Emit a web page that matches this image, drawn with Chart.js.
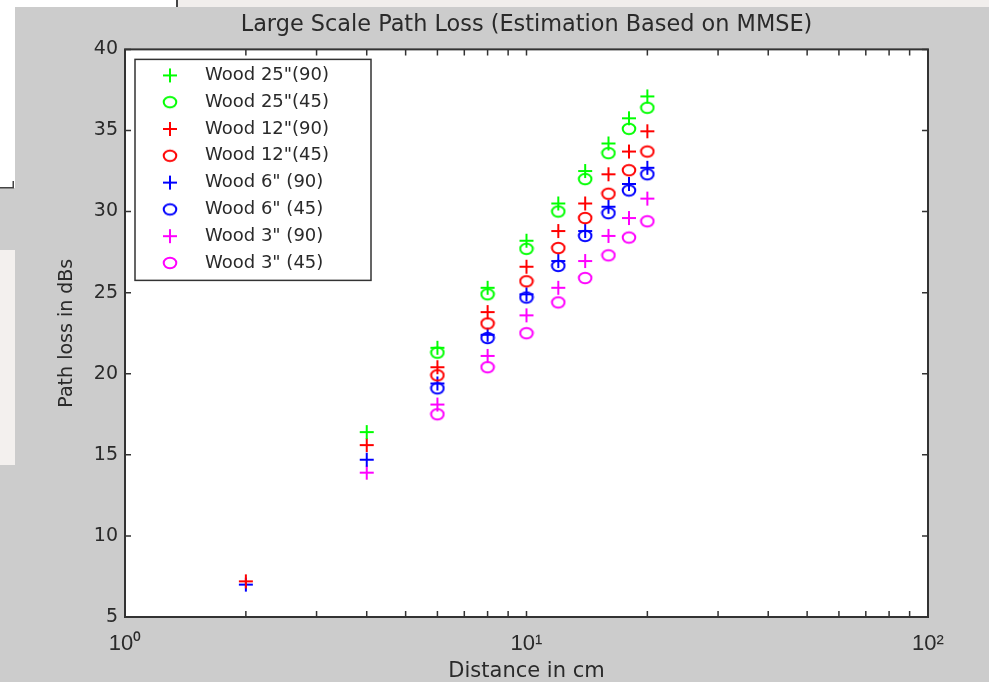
<!DOCTYPE html>
<html>
<head>
<meta charset="utf-8">
<title>Large Scale Path Loss</title>
<script src="https://cdn.jsdelivr.net/npm/chart.js@4.4.1/dist/chart.umd.min.js"></script>
<style>
  html, body { margin: 0; padding: 0; background: #fff; }
  #pathLossChart { display: block; }
</style>
</head>
<body>
<canvas id="pathLossChart" width="989" height="682"></canvas>
<script>
// Distance in cm where each estimate was taken
const distances = [2, 4, 6, 8, 10, 12, 14, 16, 18, 20];

// Path loss in dB (null = no marker at that distance)
const wood25_90 = [null, 16.4, 21.6, 25.3, 28.2, 30.5, 32.5, 34.2, 35.75, 37.1];
const wood25_45 = [null, null, 21.3, 24.9, 27.7, 30.0, 32.0, 33.6, 35.1, 36.4];
const wood12_90 = [7.2, 15.6, 20.4, 23.8, 26.6, 28.8, 30.5, 32.3, 33.7, 34.95];
const wood12_45 = [null, null, 19.9, 23.1, 25.7, 27.75, 29.6, 31.1, 32.55, 33.7];
const wood6_90 = [7.0, 14.7, 19.4, 22.4, 24.9, 26.95, 28.8, 30.3, 31.7, 32.7];
const wood6_45 = [null, null, 19.1, 22.2, 24.7, 26.65, 28.5, 29.9, 31.3, 32.3];
const wood3_90 = [null, 13.9, 18.1, 21.1, 23.6, 25.3, 26.95, 28.5, 29.6, 30.8];
const wood3_45 = [null, null, 17.5, 20.4, 22.5, 24.4, 25.9, 27.3, 28.4, 29.4];

const seriesValues = [wood25_90, wood25_45, wood12_90, wood12_45, wood6_90, wood6_45, wood3_90, wood3_45];
const seriesLabels = ['Wood 25"(90)', 'Wood 25"(45)', 'Wood 12"(90)', 'Wood 12"(45)',
                      'Wood 6" (90)', 'Wood 6" (45)', 'Wood 3" (90)', 'Wood 3" (45)'];
const seriesColors = ["#00ff00", "#00ff00", "#ff0000", "#ff0000", "#0000ff", "#0000ff", "#ff00ff", "#ff00ff"];
const seriesShapes = ["plus", "circle", "plus", "circle", "plus", "circle", "plus", "circle"];

// Axis ticks
const xTickValues = [1, 2, 3, 4, 5, 6, 7, 8, 9, 10, 20, 30, 40, 50, 60, 70, 80, 90, 100];
const xTickLabels = { 1: "10\u2070", 10: "10\u00b9", 100: "10\u00b2" };
const yTickValues = [5, 10, 15, 20, 25, 30, 35, 40];

const textColor = "#2a2a2a";
const fontFamily = "'DejaVu Sans', sans-serif";

// MATLAB-like markers: '+' and a slightly flattened 'o'
function makeMarker(shape, color) {
  const c = document.createElement("canvas");
  c.width = 16;
  c.height = 16;
  const g = c.getContext("2d");
  g.strokeStyle = color;
  g.lineWidth = 2;
  g.beginPath();
  if (shape === "plus") {
    g.moveTo(8, 1); g.lineTo(8, 15);
    g.moveTo(1, 8); g.lineTo(15, 8);
  } else {
    g.ellipse(8, 8, 6.3, 5.3, 0, 0, Math.PI * 2);
  }
  g.stroke();
  return c;
}

const datasets = seriesValues.map((vals, i) => ({
  label: seriesLabels[i],
  data: distances.map((d, j) => (vals[j] === null ? null : { x: d, y: vals[j] })).filter(p => p),
  pointStyle: makeMarker(seriesShapes[i], seriesColors[i]),
  borderColor: seriesColors[i],
  backgroundColor: "transparent",
  showLine: false
}));

// Gray figure window, white axes area and the desktop bits around it
const figureBackground = {
  id: "figureBackground",
  beforeDraw(chart) {
    const c = chart.ctx;
    const a = chart.chartArea;
    c.save();
    c.fillStyle = "#cccccc";
    c.fillRect(0, 0, chart.width, chart.height);
    c.fillStyle = "#f1eeec";
    c.fillRect(0, 0, chart.width, 7);
    c.fillStyle = "#ffffff";
    c.fillRect(0, 0, 176, 7);
    c.fillRect(0, 0, 15, 188);
    c.fillStyle = "#f3f0ee";
    c.fillRect(0, 250, 15, 215);
    c.fillStyle = "#444";
    c.fillRect(176, 0, 2, 7);
    c.fillRect(0, 187, 14, 1.5);
    c.fillRect(12.5, 181, 1.5, 7);
    c.fillStyle = "#ffffff";
    c.fillRect(a.left, a.top, a.right - a.left, a.bottom - a.top);
    c.restore();
  }
};

// Box around the axes with inward ticks on all four sides
const matlabAxes = {
  id: "matlabAxes",
  afterDatasetsDraw(chart) {
    const c = chart.ctx;
    const a = chart.chartArea;
    const xs = chart.scales.x;
    const ys = chart.scales.y;
    const len = 6;
    c.save();
    c.strokeStyle = "#333";
    c.lineWidth = 1.5;
    c.beginPath();
    xs.ticks.forEach(t => {
      const px = xs.getPixelForValue(t.value);
      c.moveTo(px, a.bottom); c.lineTo(px, a.bottom - len);
      c.moveTo(px, a.top); c.lineTo(px, a.top + len);
    });
    ys.ticks.forEach(t => {
      const py = ys.getPixelForValue(t.value);
      c.moveTo(a.left, py); c.lineTo(a.left + len, py);
      c.moveTo(a.right, py); c.lineTo(a.right - len, py);
    });
    c.stroke();
    c.lineWidth = 2;
    c.strokeRect(a.left, a.top, a.right - a.left, a.bottom - a.top);
    c.restore();
  }
};

// Legend box in the upper left corner of the axes
const boxedLegend = {
  id: "boxedLegend",
  afterDraw(chart) {
    const c = chart.ctx;
    const a = chart.chartArea;
    const left = a.left + 10, top = a.top + 10, w = 236, h = 221;
    c.save();
    c.fillStyle = "#fff";
    c.fillRect(left, top, w, h);
    c.strokeStyle = "#333";
    c.lineWidth = 1.5;
    c.strokeRect(left, top, w, h);
    c.font = "18px " + fontFamily;
    c.fillStyle = textColor;
    c.textBaseline = "middle";
    chart.data.datasets.forEach((ds, i) => {
      const y = top + 16 + i * 26.8;
      c.drawImage(ds.pointStyle, left + 35 - 8, y - 8);
      c.fillText(ds.label, left + 70, y);
    });
    c.restore();
  }
};

const ctx = document.getElementById("pathLossChart").getContext("2d");
new Chart(ctx, {
  type: "scatter",
  data: { datasets: datasets },
  plugins: [figureBackground, matlabAxes, boxedLegend],
  options: {
    responsive: false,
    animation: false,
    layout: { padding: { left: 0, right: 61, top: 0, bottom: 0 } },
    elements: { point: { radius: 7, hoverRadius: 7, borderWidth: 0 } },
    plugins: {
      legend: { display: false },
      tooltip: { enabled: false },
      title: {
        display: true,
        fullSize: false,
        text: "Large Scale Path Loss (Estimation Based on MMSE)",
        color: textColor,
        font: { family: fontFamily, size: 22.4, weight: "normal", lineHeight: 1.2 },
        padding: { top: 12, bottom: 10.5 }
      }
    },
    scales: {
      x: {
        type: "logarithmic",
        min: 1,
        max: 100,
        afterBuildTicks: s => { s.ticks = xTickValues.map(v => ({ value: v })); },
        afterFit: s => { s.height = 65; },
        grid: { display: false, drawTicks: false },
        border: { display: false },
        ticks: {
          autoSkip: false,
          maxRotation: 0,
          padding: 14,
          color: textColor,
          font: { family: "'Liberation Sans', sans-serif", size: 22 },
          callback: v => xTickLabels[v] || ""
        },
        title: {
          display: true,
          text: "Distance in cm",
          color: textColor,
          font: { family: fontFamily, size: 21, lineHeight: 1 },
          padding: 0
        }
      },
      y: {
        min: 5,
        max: 40,
        afterBuildTicks: s => { s.ticks = yTickValues.map(v => ({ value: v })); },
        afterFit: s => { s.width = 125; },
        grid: { display: false, drawTicks: false },
        border: { display: false },
        ticks: {
          padding: 7,
          color: textColor,
          font: { family: fontFamily, size: 19 }
        },
        title: {
          display: true,
          text: "Path loss in dBs",
          color: textColor,
          font: { family: fontFamily, size: 19, lineHeight: 1.2 },
          padding: { top: 56, bottom: 0 }
        }
      }
    }
  }
});
</script>
</body>
</html>
